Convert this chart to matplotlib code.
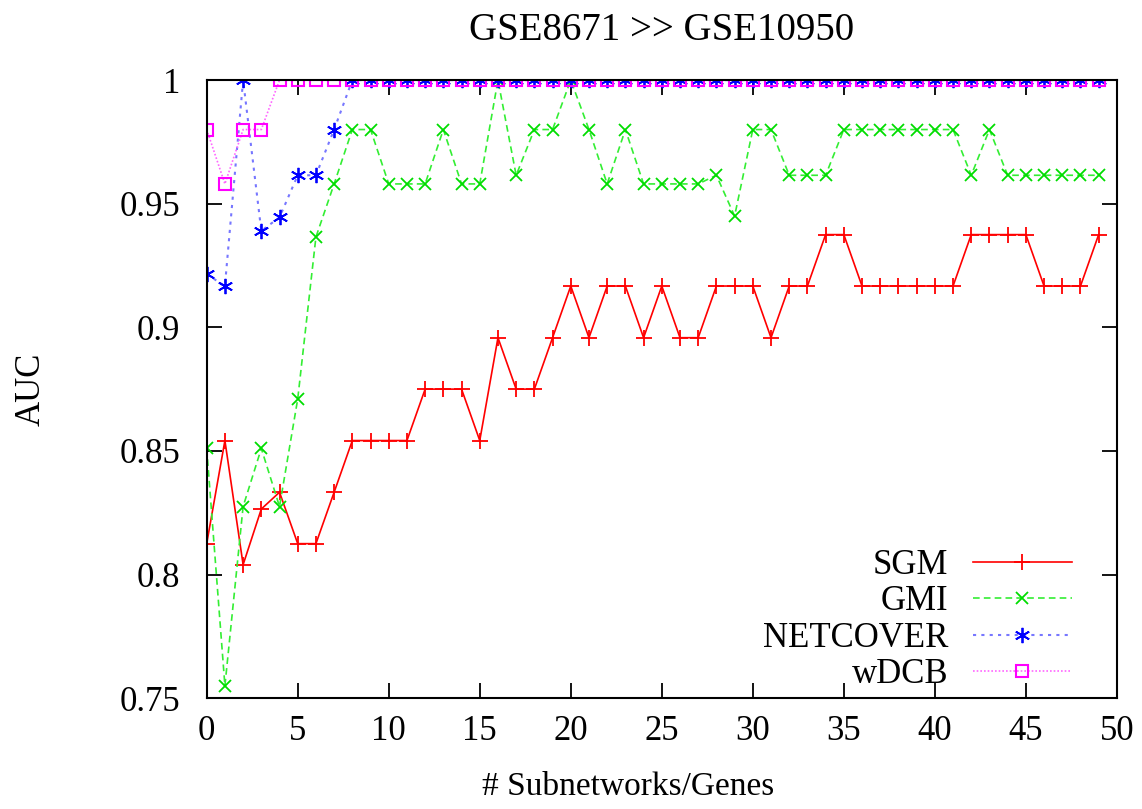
import matplotlib.pyplot as plt

# x positions (number of subnetworks / genes)
n_sub = list(range(50))

sgm = [0.8125, 0.8542, 0.8040, 0.8265, 0.8333, 0.8125, 0.8125, 0.8333, 0.8542, 0.8542,
       0.8542, 0.8542, 0.875, 0.875, 0.875, 0.8542, 0.8958, 0.875, 0.875, 0.8958,
       0.9167, 0.8958, 0.9167, 0.9167, 0.8958, 0.9167, 0.8958, 0.8958, 0.9167, 0.9167,
       0.9167, 0.8958, 0.9167, 0.9167, 0.9375, 0.9375, 0.9167, 0.9167, 0.9167, 0.9167,
       0.9167, 0.9167, 0.9375, 0.9375, 0.9375, 0.9375, 0.9167, 0.9167, 0.9167, 0.9375]

gmi = [0.851, 0.755, 0.8275, 0.851, 0.8275, 0.871, 0.9365, 0.958, 0.98, 0.98,
       0.958, 0.958, 0.958, 0.98, 0.958, 0.958, 1.0, 0.9615, 0.98, 0.98,
       1.0, 0.98, 0.958, 0.98, 0.958, 0.958, 0.958, 0.958, 0.9615, 0.945,
       0.98, 0.98, 0.9615, 0.9615, 0.9615, 0.98, 0.98, 0.98, 0.98, 0.98,
       0.98, 0.98, 0.9615, 0.98, 0.9615, 0.9615, 0.9615, 0.9615, 0.9615, 0.9615]

netcover = [0.9215, 0.9167, 1.0, 0.939, 0.9445, 0.9615, 0.9615, 0.98] + [1.0] * 42

wdcb = [0.98, 0.958, 0.98, 0.98] + [1.0] * 46

plt.rcParams['font.family'] = ['Liberation Serif', 'DejaVu Serif']
plt.rcParams['font.size'] = 25

fig = plt.figure(figsize=(11.42, 8.09), dpi=100)
ax = fig.add_axes([0.181, 0.137, 0.797, 0.764])

ax.plot(n_sub, sgm, color='#ff0000', linestyle='-', linewidth=1.2,
        marker='+', markersize=11, markeredgewidth=1.3, label='SGM')
ax.plot(n_sub, gmi, color='#33ee33', linestyle=(0, (4, 2.5)), linewidth=1.2,
        marker='x', markersize=8.5, markeredgewidth=1.3, markeredgecolor='#00dd00',
        label='GMI')
ax.plot(n_sub, netcover, color='#7777ff', linestyle=(0, (1.5, 2.5)), linewidth=1.5,
        marker=(6, 2, 0), markersize=11, markeredgewidth=1.3, markeredgecolor='#0000ff',
        label='NETCOVER')
ax.plot(n_sub, wdcb, color='#ff66ff', linestyle=(0, (1, 1.2)), linewidth=1.2,
        marker='s', markersize=9, markerfacecolor='none', markeredgewidth=1.5,
        markeredgecolor='#ff00ff', label='wDCB')

ax.set_xlim(0, 50)
ax.set_ylim(0.75, 1.0)
ax.set_xticks(range(0, 51, 5))
ax.set_yticks([0.75, 0.8, 0.85, 0.9, 0.95, 1.0])
ax.set_yticklabels(['0.75', '0.8', '0.85', '0.9', '0.95', '1'])
ax.tick_params(direction='in', length=11, width=1.3, top=True, right=True, pad=19)
ax.tick_params(axis='x', pad=12)
for s in ax.spines.values():
    s.set_linewidth(1.5)

ax.set_title('GSE8671 >> GSE10950', fontsize=28, pad=29)
ax.set_xlabel('# Subnetworks/Genes', fontsize=24)
ax.xaxis.set_label_coords(0.4626, -0.118)
ax.set_ylabel('AUC', fontsize=25, labelpad=52)

ax.legend(loc='lower right', markerfirst=False, frameon=False, handlelength=2.85,
          handletextpad=0.7, labelspacing=0.1, fontsize=25, borderpad=0.1,
          borderaxespad=0.1, bbox_to_anchor=(0.958, 0.0))

fig.savefig('out.png', dpi=100)
